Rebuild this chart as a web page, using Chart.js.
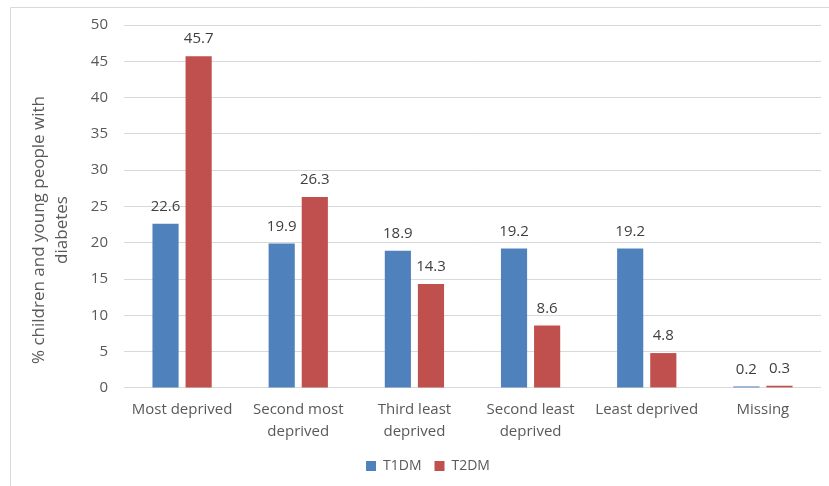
<!DOCTYPE html>
<html>
<head>
<meta charset="utf-8">
<style>
  html, body { margin: 0; padding: 0; background: #fff; }
  canvas { display: block; }
</style>
<script src="https://cdn.jsdelivr.net/npm/chart.js@4"></script>
</head>
<body>
<canvas id="chart" width="829" height="486"></canvas>
<script>
// Share of children and young people with diabetes by deprivation quintile
const categories = [
  "Most deprived",
  ["Second most", "deprived"],
  ["Third least", "deprived"],
  ["Second least", "deprived"],
  "Least deprived",
  "Missing"
];
const t1dm = [22.6, 19.9, 18.9, 19.2, 19.2, 0.2];
const t2dm = [45.7, 26.3, 14.3, 8.6, 4.8, 0.3];
const yTicks = { min: 0, max: 50, step: 5 };
const yTitle = ['% children and young people with', 'diabetes'];

const FONT = "'Open Sans', 'Liberation Sans', sans-serif";
const TEXT = "#595959";

// Thin frame along the top and left edges of the chart area
const framePlugin = {
  id: 'frame',
  beforeDraw(chart) {
    const ctx = chart.ctx;
    ctx.save();
    ctx.strokeStyle = '#d9d9d9';
    ctx.lineWidth = 1;
    ctx.beginPath();
    ctx.moveTo(10.5, 486);
    ctx.lineTo(10.5, 7.5);
    ctx.lineTo(829, 7.5);
    ctx.stroke();
    ctx.restore();
  }
};

// Rotated two-line axis title, centred on the chart's full height
const axisTitle = {
  id: 'axisTitle',
  afterDraw(chart) {
    const ctx = chart.ctx;
    ctx.save();
    ctx.font = "17px " + FONT;
    ctx.fillStyle = TEXT;
    ctx.textAlign = 'center';
    ctx.textBaseline = 'middle';
    ctx.translate(39, 230);
    ctx.rotate(-Math.PI / 2);
    yTitle.forEach((line, i) => ctx.fillText(line, 0, i * 23));
    ctx.restore();
  }
};

// Value labels above each bar
const valueLabels = {
  id: 'valueLabels',
  afterDatasetsDraw(chart) {
    const ctx = chart.ctx;
    ctx.save();
    ctx.font = "15px " + FONT;
    ctx.fillStyle = '#404040';
    ctx.textAlign = 'center';
    ctx.textBaseline = 'middle';
    chart.data.datasets.forEach((ds, i) => {
      chart.getDatasetMeta(i).data.forEach((bar, j) => {
        ctx.fillText(ds.data[j].toFixed(1), bar.x, bar.y - 17);
      });
    });
    ctx.restore();
  }
};

new Chart(document.getElementById('chart'), {
  type: 'bar',
  data: {
    labels: categories,
    datasets: [
      { label: 'T1DM', data: t1dm, backgroundColor: '#4F81BD' },
      { label: 'T2DM', data: t2dm, backgroundColor: '#C0504D' }
    ]
  },
  options: {
    responsive: false,
    animation: false,
    devicePixelRatio: 1,
    layout: { padding: { top: 25, right: 8, left: 35, bottom: 3 } },
    datasets: { bar: { categoryPercentage: 0.57, barPercentage: 0.79 } },
    plugins: {
      legend: {
        position: 'bottom',
        labels: {
          font: { size: 14, family: FONT },
          color: TEXT,
          boxWidth: 10,
          boxHeight: 10,
          padding: 13
        }
      },
      tooltip: { enabled: false }
    },
    scales: {
      x: {
        grid: { display: false },
        border: { display: false },
        ticks: {
          font: { size: 15, family: FONT, lineHeight: 1.47 },
          color: TEXT,
          maxRotation: 0,
          autoSkip: false,
          padding: 3
        }
      },
      y: {
        min: yTicks.min,
        max: yTicks.max,
        afterFit(scale) { scale.width = 89; },
        grid: { color: '#d9d9d9', drawTicks: false },
        border: { display: false },
        ticks: {
          stepSize: yTicks.step,
          font: { size: 15, family: FONT },
          color: TEXT,
          padding: 16
        }
      }
    }
  },
  plugins: [framePlugin, axisTitle, valueLabels]
});
</script>
</body>
</html>
